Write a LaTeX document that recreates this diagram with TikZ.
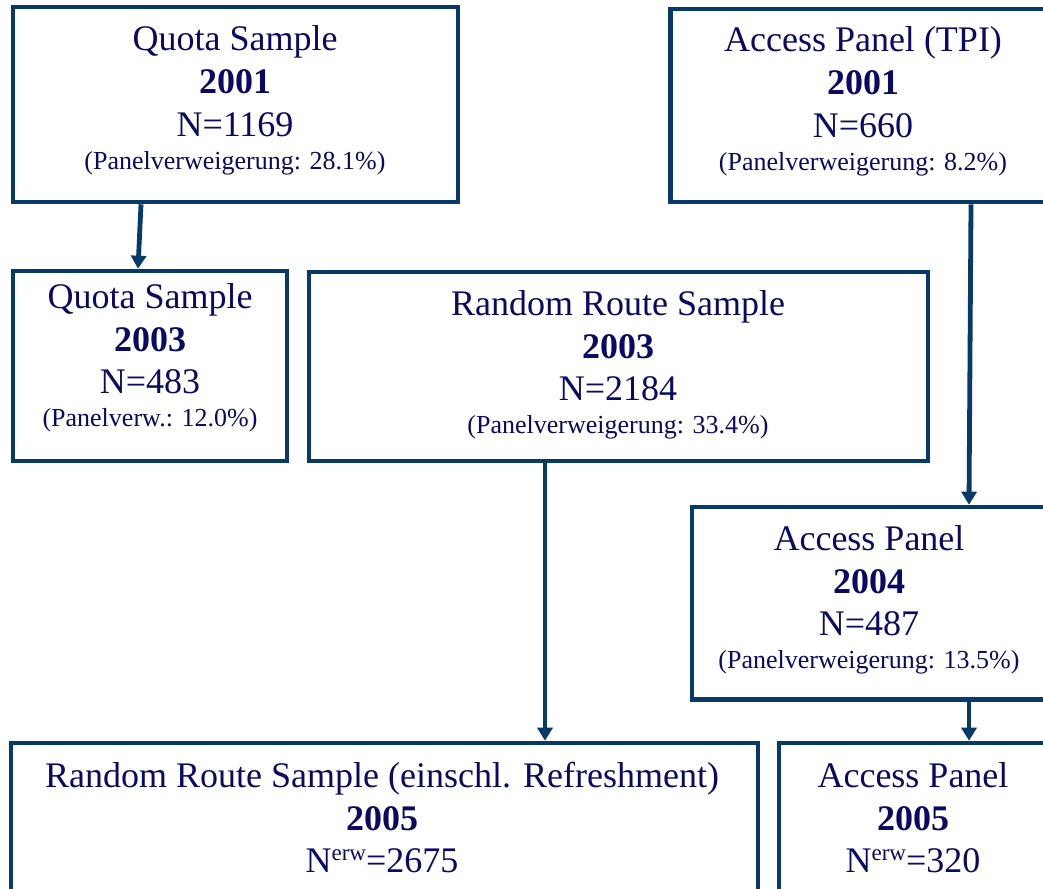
\documentclass[tikz,border=0pt]{standalone}
\usepackage{fontspec}
\setmainfont{Liberation Serif}
\usetikzlibrary{arrows.meta}
\definecolor{edge}{RGB}{8,58,105}
\definecolor{ink}{RGB}{10,10,100}
\tikzset{
  panelbox/.style={draw=edge, line width=4.6pt, inner sep=0pt, rectangle},
  bigtxt/.style={anchor=base, inner sep=0pt, text=ink, font=\fontsize{36}{40}\selectfont},
  boldtxt/.style={anchor=base, inner sep=0pt, text=ink, font=\fontsize{36}{40}\selectfont\bfseries},
  smalltxt/.style={anchor=base, inner sep=0pt, text=ink, font=\fontsize{26}{30}\selectfont},
  flow/.style={draw=edge, line width=4.8pt, -{Triangle[length=13pt,width=15pt]}},
}
\newcommand\panelfour[7]{%
  \node[bigtxt] (#1-a) at (#2,#3) {#4};
  \node[boldtxt] (#1-b) at (#2,#3+43) {#5};
  \node[bigtxt] (#1-c) at (#2,#3+85) {#6};
  \node[smalltxt] (#1-d) at (#2,#3+118) {#7};
}
\newcommand\panelthree[6]{%
  \node[bigtxt] (#1-a) at (#2,#3) {#4};
  \node[boldtxt] (#1-b) at (#2,#3+43) {#5};
  \node[bigtxt] (#1-c) at (#2,#3+85) {#6};
}
\newcommand\erw{\raisebox{12pt}{\fontsize{23}{23}\selectfont erw}}
\begin{document}
\begin{tikzpicture}[x=1pt,y=-1pt]
\useasboundingbox (0,0) rectangle (1043,888);
\clip (0,0) rectangle (1043,888);
\fill[white] (0,0) rectangle (1043,888);

% boxes
\node[panelbox, minimum width=445pt, minimum height=195pt] (b1) at (235.5,104.5) {};
\node[panelbox, minimum width=389.5pt, minimum height=193pt] (b2) at (865.25,105.5) {};
\node[panelbox, minimum width=274pt, minimum height=190pt] (b3) at (150,366) {};
\node[panelbox, minimum width=619pt, minimum height=189pt] (b4) at (618.5,366.5) {};
\node[panelbox, minimum width=368pt, minimum height=192.5pt] (b5) at (876,603.25) {};
\node[panelbox, minimum width=747pt, minimum height=207pt] (b6) at (384.5,846.5) {};
\node[panelbox, minimum width=281pt, minimum height=207pt] (b7) at (919.5,846.5) {};

% texts
\panelfour{t1}{235}{51}{Quota Sample}{2001}{N=1169}{(Panelverweigerung: 28.1\%)}
\panelfour{t2}{863}{52}{Access Panel (TPI)}{2001}{N=660}{(Panelverweigerung: 8.2\%)}
\panelfour{t3}{150}{308}{Quota Sample}{2003}{N=483}{(Panelverw.: 12.0\%)}
\panelfour{t4}{618}{315}{Random Route Sample}{2003}{N=2184}{(Panelverweigerung: 33.4\%)}
\panelfour{t5}{869}{550}{Access Panel}{2004}{N=487}{(Panelverweigerung: 13.5\%)}
\panelthree{t6}{382}{787}{Random Route Sample (einschl. Refreshment)}{2005}{N\erw=2675}
\panelthree{t7}{913}{787}{Access Panel}{2005}{N\erw=320}

% connectors
\draw[flow] ([xshift=-94.5pt]b1.south) -- ([xshift=-12pt]b3.north);
\draw[flow] ([xshift=105.75pt]b2.south) -- ([xshift=93pt]b5.north);
\draw[flow] ([xshift=-73.5pt]b4.south) -- ([xshift=160.5pt]b6.north);
\draw[flow] ([xshift=93pt]b5.south) -- ([xshift=49.5pt]b7.north);
\end{tikzpicture}
\end{document}
